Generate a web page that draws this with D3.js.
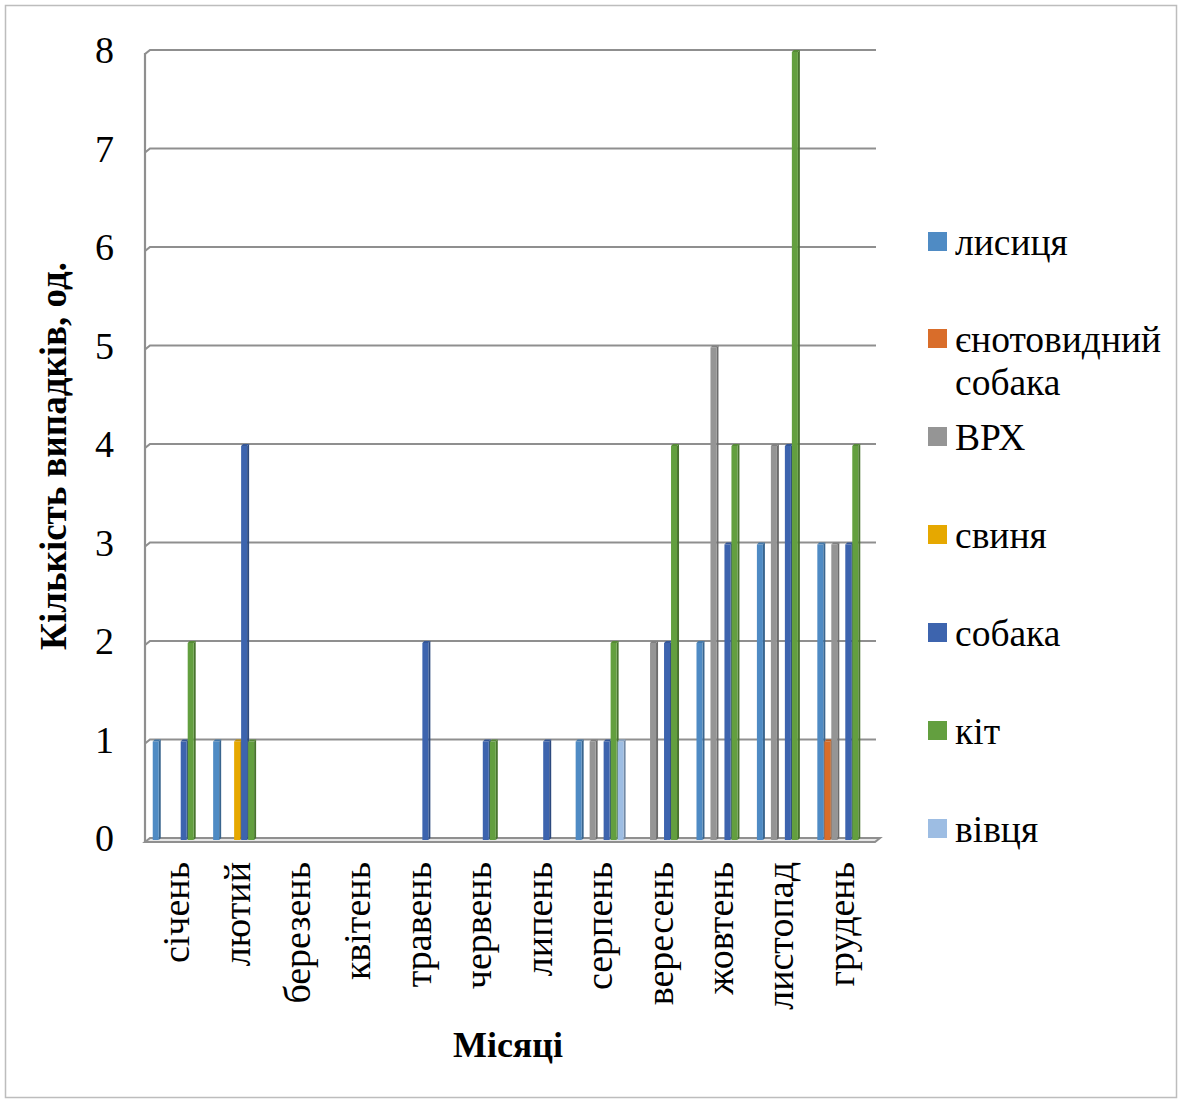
<!DOCTYPE html>
<html>
<head>
<meta charset="utf-8">
<script src="https://cdn.jsdelivr.net/npm/d3@7"></script>
<style>
  html, body { margin: 0; padding: 0; background: #fff; }
  svg { display: block; }
  text { font-family: "Liberation Serif", "Times New Roman", serif; fill: #000; }
</style>
</head>
<body>
<svg id="chart" width="1179" height="1103"></svg>
<script>
// ---- data ----
const months = ["січень","лютий","березень","квітень","травень","червень","липень","серпень","вересень","жовтень","листопад","грудень"];
const seriesNames = ["лисиця","єнотовидний собака","ВРХ","свиня","собака","кіт","вівця"];
const lysytsia   = [1,1,0,0,0,0,0,1,0,2,3,3];
const yenot      = [0,0,0,0,0,0,0,0,0,0,0,1];
const vrkh       = [0,0,0,0,0,0,0,1,2,5,4,3];
const svynia     = [0,1,0,0,0,0,0,0,0,0,0,0];
const sobaka     = [1,4,0,0,2,1,1,1,2,3,4,3];
const kit        = [2,1,0,0,0,1,0,2,4,4,8,4];
const vivtsia    = [0,0,0,0,0,0,0,1,0,0,0,0];
const yTicks     = [0,1,2,3,4,5,6,7,8];
const seriesValues = [lysytsia, yenot, vrkh, svynia, sobaka, kit, vivtsia];
const colors = ["#4f8bc4","#d96d2a","#959595","#e6a800","#3d64ae","#639f3f","#9dbde3"];

// ---- layout ----
const svg = d3.select("#chart");
const plotL = 147, plotR = 872, yTop = 50, yBot = 838;

svg.append("rect").attr("x",5.5).attr("y",5.5).attr("width",1171).attr("height",1092)
  .attr("fill","#fff").attr("stroke","#bdbdbd").attr("stroke-width",1.5);

const x0 = d3.scaleBand().domain(months).range([plotL, plotR]).paddingInner(0.19).paddingOuter(0.095);
const x1 = d3.scaleBand().domain(seriesNames).range([0, x0.bandwidth()]);
const y = d3.scaleLinear().domain([0, 8]).range([yBot, yTop]);

// gridlines (back wall)
const grid = svg.append("g");
yTicks.forEach(t => {
  if (t === 0) return;
  const yy = y(t);
  grid.append("path")
    .attr("d", `M145,${yy+4} L150,${yy} L876,${yy}`)
    .attr("fill","none").attr("stroke","#8f8f8f").attr("stroke-width",2.2);
});
// left wall
grid.append("line").attr("x1",145).attr("x2",145).attr("y1",yTop+3).attr("y2",yBot+4)
  .attr("stroke","#8f8f8f").attr("stroke-width",2.2);
// floor
grid.append("path")
  .attr("d", `M145,${yBot+4} L150,${yBot} L880,${yBot} L875,${yBot+4} Z`)
  .attr("fill","#e6e6e6").attr("stroke","#8f8f8f").attr("stroke-width",2);

// y tick labels
svg.append("g").selectAll("text").data(yTicks).join("text")
  .attr("x", 114).attr("y", d => y(d)).attr("dy","0.35em")
  .attr("text-anchor","end").attr("font-size",38).text(d => d);

// bars
const bars = svg.append("g");
months.forEach((m, mi) => {
  seriesNames.forEach((s, si) => {
    const v = seriesValues[si][mi];
    if (!v) return;
    const bx = x0(m) + x1(s);
    const top = y(v) + 2;
    const h = yBot + 2 - top;
    const c = d3.color(colors[si]);
    // side face
    bars.append("polygon")
      .attr("points", `${bx+6},${top} ${bx+8},${top-2} ${bx+8},${top+h-2} ${bx+6},${top+h}`)
      .attr("fill", c.darker(0.9));
    // front
    bars.append("rect").attr("x", bx).attr("y", top).attr("width", 6).attr("height", h)
      .attr("fill", colors[si]);
    // top
    bars.append("polygon")
      .attr("points", `${bx},${top} ${bx+2},${top-2} ${bx+8},${top-2} ${bx+6},${top}`)
      .attr("fill", c.darker(0.4));
  });
});

// month labels
svg.append("g").selectAll("text").data(months).join("text")
  .attr("transform", d => `translate(${x0(d) + x0.bandwidth()/2 + 12},862) rotate(-90)`)
  .attr("text-anchor","end").attr("font-size",38).text(d => d);

// axis titles
svg.append("text").attr("transform","translate(66,456) rotate(-90)")
  .attr("text-anchor","middle").attr("font-size",37).attr("font-weight","bold")
  .text("Кількість випадків, од.");
svg.append("text").attr("x",508).attr("y",1057).attr("text-anchor","middle")
  .attr("font-size",36).attr("font-weight","bold").text("Місяці");

// legend
const legendTops = [232, 329, 427, 525, 623, 721, 819];
const lg = svg.append("g");
seriesNames.forEach((s, i) => {
  const t = legendTops[i];
  lg.append("rect").attr("x",928).attr("y",t).attr("width",19).attr("height",19).attr("fill",colors[i]);
  const txt = lg.append("text").attr("x",955).attr("y",t+23).attr("font-size",37.5);
  if (s === "єнотовидний собака") {
    txt.append("tspan").attr("x",955).text("єнотовидний");
    txt.append("tspan").attr("x",955).attr("dy",43).text("собака");
  } else {
    txt.text(s);
  }
});
</script>
</body>
</html>
